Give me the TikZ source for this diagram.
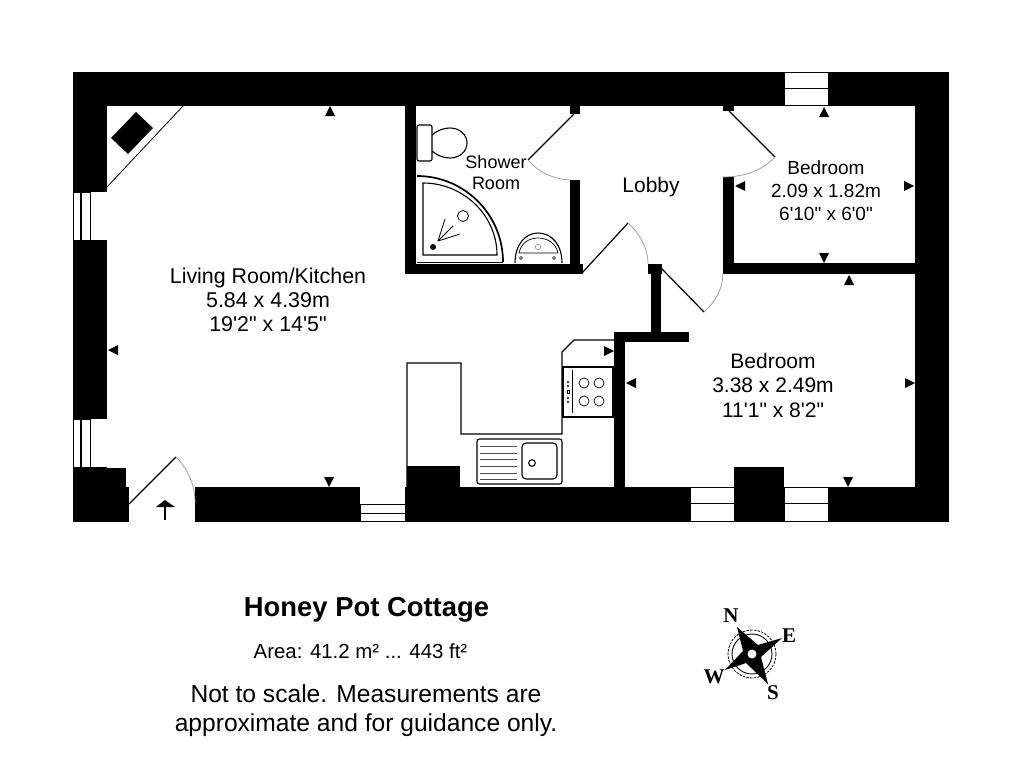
\documentclass[tikz,border=0pt]{standalone}
\usepackage{fontspec}
\newfontfamily\planfont{Liberation Sans}
\newfontfamily\compassfont{Liberation Serif}
\definecolor{swing}{RGB}{150,150,150}
\tikzset{
  wall/.style={fill=black},
  window/.style={fill=white,draw=black,line width=1pt},
  leaf/.style={draw=black,line width=1.2pt},
  swingarc/.style={draw=swing,line width=0.7pt},
  fixture/.style={draw=black,line width=1.1pt},
  label/.style={font=\planfont,align=center,inner sep=0pt},
  compassletter/.style={font=\compassfont\bfseries\fontsize{21}{21}\selectfont,inner sep=0pt},
}
\begin{document}
\begin{tikzpicture}[x=1pt,y=-1pt]
\useasboundingbox (0,0) rectangle (1024,782);
\fill [white] (0,0) rectangle (1024,782);

% outer walls
\fill [wall] (73,72) rectangle (949,106);
\fill [wall] (915,72) rectangle (949,522);
\fill [wall] (73,72) rectangle (107,192);
\fill [wall] (73,240) rectangle (107,419);
\fill [wall] (73,467) rectangle (107,522);
\fill [wall] (107,468) rectangle (126,487);
\fill [wall] (73,487) rectangle (129,522);
\fill [wall] (195,487) rectangle (360,522);
\fill [wall] (405,487) rectangle (690,522);
\fill [wall] (734,487) rectangle (784,522);
\fill [wall] (734,467) rectangle (784,487);
\fill [wall] (828,487) rectangle (949,522);

% inner walls
\fill [wall] (405,106) rectangle (416,274);
\fill [wall] (405,264) rectangle (583,274);
\fill [wall] (570,180) rectangle (580,264);
\fill [wall] (570,106) rectangle (580,114);
\fill [wall] (723,106) rectangle (734,111);
\fill [wall] (723,177) rectangle (734,274);
\fill [wall] (723,263) rectangle (915,274);
\fill [wall] (648,264) rectangle (662,274);
\fill [wall] (651,264) rectangle (661,332);
\fill [wall] (614,332) rectangle (689,342);
\fill [wall] (614,332) rectangle (625,487);
\fill [wall] (407,466) rectangle (460,487);

% windows
\draw [window] (784,72) rectangle (828,105);
\draw [line width=1pt] (784,88) -- (828,88);
\draw [window] (73,192) rectangle (90,240);
\draw [line width=1.4pt] (81,192) -- (81,240);
\draw [window] (73,419) rectangle (90,467);
\draw [line width=1.4pt] (81,419) -- (81,467);
\draw [window] (360,504) rectangle (405,521);
\draw [line width=1pt] (360,513) -- (405,513);
\draw [window] (690,487) rectangle (734,521);
\draw [line width=1pt] (690,503) -- (734,503);
\draw [window] (784,487) rectangle (828,521);
\draw [line width=1pt] (784,503) -- (828,503);

% doors
\draw [leaf] (574,114) -- (528,160);
\draw [swingarc] (528,160) .. controls (538,172) and (553,179) .. (570,180);
\draw [leaf] (729,111) -- (775,157);
\draw [swingarc] (775,157) .. controls (763,170) and (745,177) .. (723,177);
\draw [leaf] (582,273) -- (628,223);
\draw [swingarc] (628,223) .. controls (640,234) and (648,248) .. (648,264);
\draw [leaf] (661,268) -- (704,312);
\draw [swingarc] (704,312) .. controls (716,301) and (723,288) .. (723,273);
\draw [leaf] (129,504) -- (176,457);
\draw [swingarc] (176,457) .. controls (187,468) and (195,484) .. (195,503);
\draw [line width=1.4pt] (165,520) -- (165,505);
\fill (165,500) -- (175,507) -- (156,507) -- cycle;

% corner unit
\draw [line width=0.8pt] (107,187) -- (183,106);
\fill (136,112) -- (153,128) -- (128,154) -- (111,138) -- cycle;

% toilet
\draw [fixture,rounded corners=2pt] (417,125) rectangle (432,161);
\draw [fixture] (432,135) .. controls (438,130) and (444,128) .. (450,128) .. controls (460,128) and (467,135) .. (467,143) .. controls (467,151) and (460,158) .. (450,158) .. controls (444,158) and (438,156) .. (432,151);

% shower
\draw [line width=1.7pt] (417,176) .. controls (464.5,176) and (503,214.5) .. (503,262);
\draw [line width=1pt] (417,262) -- (503,262);
\draw [fixture] (423,183) .. controls (463,183) and (497,215) .. (497,255) -- (423,255) -- cycle;
\fill (433,247) circle (3pt);
\draw [line width=0.8pt] (463,216) circle (5.5pt);
\foreach \x/\y in {445/219,453/226,460/234}
  \draw [line width=0.8pt] (438,241) -- (\x,\y);

% basin
\draw [fixture] (515,263) .. controls (515,245) and (525,233) .. (538,233) .. controls (552,233) and (562,245) .. (562,263);
\draw [line width=0.7pt] (519,253) .. controls (521,243) and (529,238) .. (538,238) .. controls (547,238) and (556,243) .. (558,253) -- cycle;
\foreach \x in {521,554}
  \draw [line width=0.6pt] (\x,258) circle (1.5pt);
\draw [draw=swing,line width=0.7pt] (538,247) circle (2.7pt);

% kitchen units
\draw [fixture] (407,487) -- (407,363) -- (461,363) -- (461,434) -- (562,434) -- (562,352) -- (574,340) -- (614,340);
\draw [fixture] (563,367) rectangle (613,417);
\draw [line width=0.9pt] (572,370) -- (572,413);
\foreach \x/\y in {584/383,599/383,584/401,599/401}
  \draw [line width=0.7pt] (\x,\y) circle (5pt);
\foreach \y in {382,386,398,402}
  \fill (568,\y) circle (1.2pt);
\draw [line width=0.4pt] (566.8,389.8) rectangle (569.2,393.2);

% sink
\draw [fixture,rounded corners=2.5pt] (477,439) rectangle (562,484);
\draw [fixture,rounded corners=4pt] (522,443) rectangle (557,479);
\draw [fixture] (532,463) circle (3.3pt);
\foreach \y in {446,453,459,466,473,479}
  \draw [line width=0.7pt,draw=black!70] (480,\y) -- (517,\y);

% measure marks
\foreach \x/\y in {330/106,824/107,849/275}
  \fill (\x,\y) -- ++(-5,10) -- ++(10,0) -- cycle;
\foreach \x/\y in {329/487,824/263,848/487}
  \fill (\x,\y) -- ++(-5,-10) -- ++(10,0) -- cycle;
\foreach \x/\y in {108/350,735/186,626/383}
  \fill (\x,\y) -- ++(10,-5) -- ++(0,10) -- cycle;
\foreach \x/\y in {614/351,914/186,915/383}
  \fill (\x,\y) -- ++(-10,-5) -- ++(0,10) -- cycle;

% room labels
\node [label,font=\planfont\fontsize{21.4}{24}\selectfont] (living) at (268,300) {Living Room/Kitchen\\5.84 x 4.39m\\19'2" x 14'5"};
\node [label,font=\planfont\fontsize{18}{21}\selectfont] (shower) at (496,173) {Shower\\Room};
\node [label,font=\planfont\fontsize{21}{24}\selectfont] (lobby) at (651,187.5) {Lobby};
\node [label,font=\planfont\fontsize{19}{23}\selectfont] (bedsmall) at (826,190.5) {Bedroom\\2.09 x 1.82m\\6'10" x 6'0"};
\node [label,font=\planfont\fontsize{21}{24.5}\selectfont] (bedlarge) at (773,385) {Bedroom\\3.38 x 2.49m\\11'1" x 8'2"};

% footer
\node [label,font=\planfont\bfseries\fontsize{27.4}{30}\selectfont] (title) at (366.5,609.5) {Honey Pot Cottage};
\node [label,font=\planfont\fontsize{20.4}{24}\selectfont] (area) at (360.5,651) {Area: 41.2 m² ... 443 ft²};
\node [label,font=\planfont\fontsize{24.6}{29}\selectfont] (note) at (366,711) {Not to scale. Measurements are\\approximate and for guidance only.};

% compass
\draw [line width=0.9pt] (752,654) circle (20pt);
\draw [line width=0.8pt,dash pattern=on 2.5pt off 1.2pt] (752,654) circle (24pt);
\fill (737,627) -- (758,645) -- (782,638) -- (761,657) -- (768,684) -- (746,663) -- (725,670) -- (743,651) -- cycle;
\fill [white] (752,654) circle (4.5pt);
\node [compassletter] (north) at (731,616) {N};
\node [compassletter] (east) at (789,636) {E};
\node [compassletter] (south) at (773,693) {S};
\node [compassletter] (west) at (714,677) {W};
\end{tikzpicture}
\end{document}
